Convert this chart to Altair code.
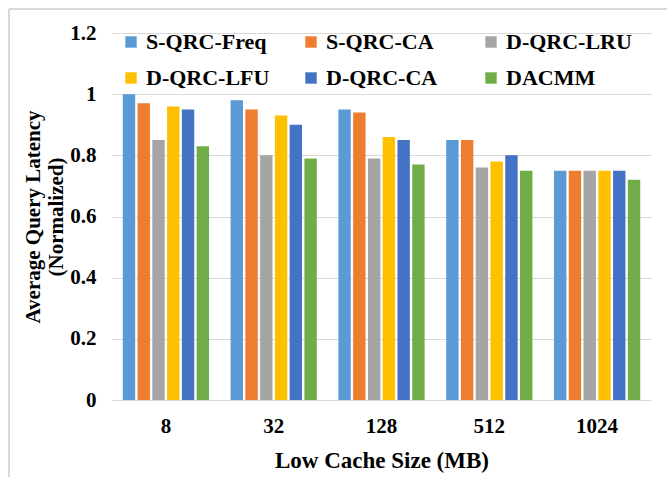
import altair as alt
import pandas as pd

# Cache sizes (MB) on the x axis and the six caching schemes compared
cache_sizes = ["8", "32", "128", "512", "1024"]
schemes = ["S-QRC-Freq", "S-QRC-CA", "D-QRC-LRU", "D-QRC-LFU", "D-QRC-CA", "DACMM"]
colors = ["#5B9BD5", "#ED7D31", "#A5A5A5", "#FFC000", "#4472C4", "#70AD47"]

# Normalized average query latency, one list per scheme (ordered by cache size)
s_qrc_freq = [1.00, 0.98, 0.95, 0.85, 0.75]
s_qrc_ca = [0.97, 0.95, 0.94, 0.85, 0.75]
d_qrc_lru = [0.85, 0.80, 0.79, 0.76, 0.75]
d_qrc_lfu = [0.96, 0.93, 0.86, 0.78, 0.75]
d_qrc_ca = [0.95, 0.90, 0.85, 0.80, 0.75]
dacmm = [0.83, 0.79, 0.77, 0.75, 0.72]

series = [s_qrc_freq, s_qrc_ca, d_qrc_lru, d_qrc_lfu, d_qrc_ca, dacmm]
rows = []
for name, vals in zip(schemes, series):
    for size, v in zip(cache_sizes, vals):
        rows.append({"size": size, "scheme": name, "latency": v})
df = pd.DataFrame(rows)

FONT = "Liberation Serif"
GRID = "#d9d9d9"

bars = alt.Chart(df).mark_bar().encode(
    x=alt.X(
        "size:N",
        sort=cache_sizes,
        scale=alt.Scale(paddingInner=0.2, paddingOuter=0.1),
        axis=alt.Axis(
            title="Low Cache Size (MB)",
            labelAngle=0,
            ticks=False,
            domain=False,
            labelPadding=15,
            labelFontSize=21,
            titleFontSize=23,
            titlePadding=13,
        ),
    ),
    xOffset=alt.XOffset(
        "scheme:N",
        sort=schemes,
        scale=alt.Scale(paddingInner=0.16, paddingOuter=0),
    ),
    y=alt.Y(
        "latency:Q",
        scale=alt.Scale(domain=[0, 1.2], nice=False),
        axis=alt.Axis(
            title=["Average Query Latency", "(Normalized)"],
            values=[0, 0.2, 0.4, 0.6, 0.8, 1.0, 1.2],
            format=".1~f",
            ticks=False,
            domain=False,
            grid=True,
            gridColor=GRID,
            gridWidth=1,
            labelPadding=16,
            labelFontSize=21,
            titleFontSize=21,
            titlePadding=3,
        ),
    ),
    color=alt.Color(
        "scheme:N",
        sort=schemes,
        scale=alt.Scale(domain=schemes, range=colors),
        legend=alt.Legend(
            title=None,
            orient="none",
            legendX=8,
            legendY=-2,
            direction="horizontal",
            columns=3,
            gridAlign="all",
            columnPadding=28,
            rowPadding=14,
            symbolType="square",
            symbolSize=130,
            symbolStrokeWidth=0,
            symbolOffset=0,
            labelFontSize=22,
            labelOffset=4,
            labelLimit=300,
        ),
    ),
)

# Outer frame lines (left and top) around the figure
frame_left = alt.Chart(df).mark_rule(color=GRID, strokeWidth=2, clip=False).encode(
    x=alt.value(-103), y=alt.value(-24), y2=alt.value(460)
)
frame_top = alt.Chart(df).mark_rule(color=GRID, strokeWidth=2, clip=False).encode(
    x=alt.value(-103), x2=alt.value(560), y=alt.value(-24)
)

chart = (
    alt.layer(bars, frame_left, frame_top)
    .properties(
        width=539,
        height=367,
        autosize=alt.AutoSizeParams(type="none"),
        padding={"left": 112, "top": 33, "right": 16, "bottom": 77},
        background="white",
    )
    .configure_view(stroke=None)
    .configure_axis(
        labelFont=FONT,
        titleFont=FONT,
        labelFontWeight="bold",
        titleFontWeight="bold",
        labelColor="#000000",
        titleColor="#000000",
    )
    .configure_legend(labelFont=FONT, labelFontWeight="bold", labelColor="#000000")
)

chart.save("out.html", embed_options={"renderer": "svg", "actions": False})
